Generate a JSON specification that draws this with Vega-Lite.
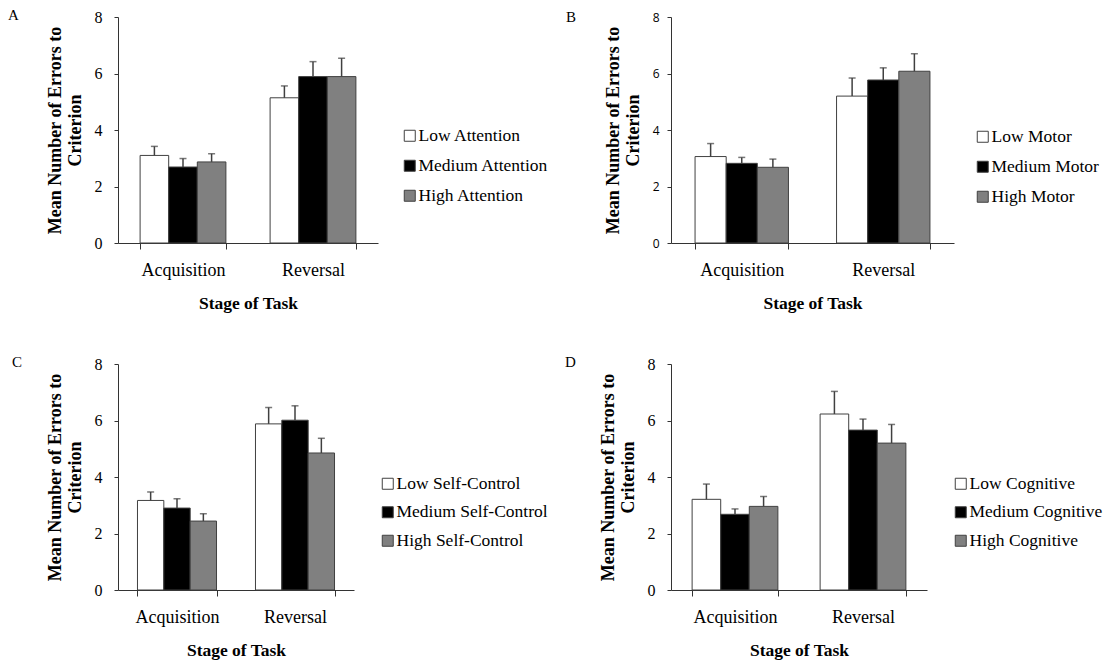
{
  "$schema": "https://vega.github.io/schema/vega-lite/v6.json",
  "background": "#ffffff",
  "padding": {"left": 8, "top": 8, "right": 5, "bottom": 5},
  "config": {
    "view": {"stroke": null},
    "axis": {"grid": false, "labelFont": "Liberation Serif", "titleFont": "Liberation Serif", "labelColor": "#000000", "titleColor": "#000000", "domainColor": "#333333", "tickColor": "#333333", "domainWidth": 1, "tickWidth": 1},
    "axisX": {"labelAngle": 0, "labelFontSize": 18, "tickSize": 6, "labelPadding": 12, "titleFontSize": 17.5, "titleFontWeight": "bold", "titlePadding": 15, "tickBand": "extent"},
    "axisY": {"labelFontSize": 16, "tickSize": 4, "labelPadding": 12, "titleFontSize": 18, "titleFontWeight": "bold", "titlePadding": 10, "titleLineHeight": 20},
    "legend": {"orient": "none", "title": null, "symbolType": "square", "symbolSize": 121, "symbolStrokeColor": "#404040", "symbolStrokeWidth": 1, "labelFont": "Liberation Serif", "labelFontSize": 17.5, "labelColor": "#000000", "labelOffset": 0, "padding": 0, "rowPadding": 11},
    "title": {"font": "Liberation Serif", "fontSize": 15, "fontWeight": "normal", "color": "#000000", "anchor": "start", "frame": "group", "offset": 0, "dy": 18}
  },
  "datasets": {
    "A": [
      {"stage": "Acquisition", "level": "Low Attention", "mean": 3.10, "upper": 3.42},
      {"stage": "Acquisition", "level": "Medium Attention", "mean": 2.69, "upper": 2.99},
      {"stage": "Acquisition", "level": "High Attention", "mean": 2.87, "upper": 3.16},
      {"stage": "Reversal", "level": "Low Attention", "mean": 5.14, "upper": 5.56},
      {"stage": "Reversal", "level": "Medium Attention", "mean": 5.89, "upper": 6.42},
      {"stage": "Reversal", "level": "High Attention", "mean": 5.89, "upper": 6.54}
    ],
    "B": [
      {"stage": "Acquisition", "level": "Low Motor", "mean": 3.06, "upper": 3.52},
      {"stage": "Acquisition", "level": "Medium Motor", "mean": 2.82, "upper": 3.03},
      {"stage": "Acquisition", "level": "High Motor", "mean": 2.68, "upper": 2.97},
      {"stage": "Reversal", "level": "Low Motor", "mean": 5.20, "upper": 5.84},
      {"stage": "Reversal", "level": "Medium Motor", "mean": 5.77, "upper": 6.20},
      {"stage": "Reversal", "level": "High Motor", "mean": 6.08, "upper": 6.70}
    ],
    "C": [
      {"stage": "Acquisition", "level": "Low Self-Control", "mean": 3.17, "upper": 3.47},
      {"stage": "Acquisition", "level": "Medium Self-Control", "mean": 2.90, "upper": 3.23},
      {"stage": "Acquisition", "level": "High Self-Control", "mean": 2.44, "upper": 2.70},
      {"stage": "Reversal", "level": "Low Self-Control", "mean": 5.88, "upper": 6.46},
      {"stage": "Reversal", "level": "Medium Self-Control", "mean": 6.01, "upper": 6.52},
      {"stage": "Reversal", "level": "High Self-Control", "mean": 4.85, "upper": 5.37}
    ],
    "D": [
      {"stage": "Acquisition", "level": "Low Cognitive", "mean": 3.21, "upper": 3.75},
      {"stage": "Acquisition", "level": "Medium Cognitive", "mean": 2.68, "upper": 2.87},
      {"stage": "Acquisition", "level": "High Cognitive", "mean": 2.96, "upper": 3.31},
      {"stage": "Reversal", "level": "Low Cognitive", "mean": 6.23, "upper": 7.03},
      {"stage": "Reversal", "level": "Medium Cognitive", "mean": 5.66, "upper": 6.05},
      {"stage": "Reversal", "level": "High Cognitive", "mean": 5.20, "upper": 5.86}
    ]
  },
  "columns": 2,
  "bounds": "flush",
  "align": "each",
  "spacing": {"row": 121, "column": 293},
  "resolve": {"scale": {"x": "independent", "y": "independent", "xOffset": "independent", "color": "independent"}},
  "concat": [
    {
      "width": 260, "height": 226,
      "title": {"text": "A", "dx": -110},
      "data": {"name": "A"},
      "encoding": {
        "x": {"field": "stage", "type": "nominal", "sort": ["Acquisition", "Reversal"], "scale": {"paddingInner": 0.34, "paddingOuter": 0.17}, "axis": {"title": "Stage of Task"}},
        "xOffset": {"field": "level", "type": "nominal", "scale": {"domain": ["Low Attention", "Medium Attention", "High Attention"], "paddingInner": 0, "paddingOuter": 0}}
      },
      "layer": [
        {"mark": {"type": "bar", "stroke": "#404040", "strokeWidth": 1},
         "encoding": {
           "y": {"field": "mean", "type": "quantitative", "scale": {"domain": [0, 8]}, "title": ["Mean Number of Errors to", "Criterion"], "axis": {"values": [0, 2, 4, 6, 8]}},
           "color": {"field": "level", "type": "nominal", "scale": {"domain": ["Low Attention", "Medium Attention", "High Attention"], "range": ["#ffffff", "#000000", "#808080"]}, "legend": {"legendX": 283, "legendY": 110}}
         }},
        {"mark": {"type": "rule", "color": "#404040", "strokeWidth": 1.5},
         "encoding": {"y": {"field": "mean", "type": "quantitative", "title": ["Mean Number of Errors to", "Criterion"]}, "y2": {"field": "upper"}}},
        {"mark": {"type": "tick", "color": "#404040", "thickness": 1.5, "size": 7},
         "encoding": {"y": {"field": "upper", "type": "quantitative", "title": ["Mean Number of Errors to", "Criterion"]}}}
      ]
    },
    {
      "width": 283, "height": 226,
      "title": {"text": "B", "dx": -105},
      "data": {"name": "B"},
      "encoding": {
        "x": {"field": "stage", "type": "nominal", "sort": ["Acquisition", "Reversal"], "scale": {"paddingInner": 0.34, "paddingOuter": 0.17}, "axis": {"title": "Stage of Task"}},
        "xOffset": {"field": "level", "type": "nominal", "scale": {"domain": ["Low Motor", "Medium Motor", "High Motor"], "paddingInner": 0, "paddingOuter": 0}}
      },
      "layer": [
        {"mark": {"type": "bar", "stroke": "#404040", "strokeWidth": 1},
         "encoding": {
           "y": {"field": "mean", "type": "quantitative", "scale": {"domain": [0, 8]}, "title": ["Mean Number of Errors to", "Criterion"], "axis": {"values": [0, 2, 4, 6, 8], "labelFont": "Open Sans", "labelFontSize": 12, "labelPadding": 8}},
           "color": {"field": "level", "type": "nominal", "scale": {"domain": ["Low Motor", "Medium Motor", "High Motor"], "range": ["#ffffff", "#000000", "#808080"]}, "legend": {"legendX": 303, "legendY": 111}}
         }},
        {"mark": {"type": "rule", "color": "#404040", "strokeWidth": 1.5},
         "encoding": {"y": {"field": "mean", "type": "quantitative", "title": ["Mean Number of Errors to", "Criterion"]}, "y2": {"field": "upper"}}},
        {"mark": {"type": "tick", "color": "#404040", "thickness": 1.5, "size": 7},
         "encoding": {"y": {"field": "upper", "type": "quantitative", "title": ["Mean Number of Errors to", "Criterion"]}}}
      ]
    },
    {
      "width": 236, "height": 226,
      "title": {"text": "C", "dx": -106},
      "data": {"name": "C"},
      "encoding": {
        "x": {"field": "stage", "type": "nominal", "sort": ["Acquisition", "Reversal"], "scale": {"paddingInner": 0.33, "paddingOuter": 0.165}, "axis": {"title": "Stage of Task"}},
        "xOffset": {"field": "level", "type": "nominal", "scale": {"domain": ["Low Self-Control", "Medium Self-Control", "High Self-Control"], "paddingInner": 0, "paddingOuter": 0}}
      },
      "layer": [
        {"mark": {"type": "bar", "stroke": "#404040", "strokeWidth": 1},
         "encoding": {
           "y": {"field": "mean", "type": "quantitative", "scale": {"domain": [0, 8]}, "title": ["Mean Number of Errors to", "Criterion"], "axis": {"values": [0, 2, 4, 6, 8]}},
           "color": {"field": "level", "type": "nominal", "scale": {"domain": ["Low Self-Control", "Medium Self-Control", "High Self-Control"], "range": ["#ffffff", "#000000", "#808080"]}, "legend": {"legendX": 261, "legendY": 111, "rowPadding": 9.5}}
         }},
        {"mark": {"type": "rule", "color": "#404040", "strokeWidth": 1.5},
         "encoding": {"y": {"field": "mean", "type": "quantitative", "title": ["Mean Number of Errors to", "Criterion"]}, "y2": {"field": "upper"}}},
        {"mark": {"type": "tick", "color": "#404040", "thickness": 1.5, "size": 7},
         "encoding": {"y": {"field": "upper", "type": "quantitative", "title": ["Mean Number of Errors to", "Criterion"]}}}
      ]
    },
    {
      "width": 256, "height": 226,
      "title": {"text": "D", "dx": -106},
      "data": {"name": "D"},
      "encoding": {
        "x": {"field": "stage", "type": "nominal", "sort": ["Acquisition", "Reversal"], "scale": {"paddingInner": 0.33, "paddingOuter": 0.165}, "axis": {"title": "Stage of Task"}},
        "xOffset": {"field": "level", "type": "nominal", "scale": {"domain": ["Low Cognitive", "Medium Cognitive", "High Cognitive"], "paddingInner": 0, "paddingOuter": 0}}
      },
      "layer": [
        {"mark": {"type": "bar", "stroke": "#404040", "strokeWidth": 1},
         "encoding": {
           "y": {"field": "mean", "type": "quantitative", "scale": {"domain": [0, 8]}, "title": ["Mean Number of Errors to", "Criterion"], "axis": {"values": [0, 2, 4, 6, 8]}},
           "color": {"field": "level", "type": "nominal", "scale": {"domain": ["Low Cognitive", "Medium Cognitive", "High Cognitive"], "range": ["#ffffff", "#000000", "#808080"]}, "legend": {"legendX": 281, "legendY": 111, "rowPadding": 9.5}}
         }},
        {"mark": {"type": "rule", "color": "#404040", "strokeWidth": 1.5},
         "encoding": {"y": {"field": "mean", "type": "quantitative", "title": ["Mean Number of Errors to", "Criterion"]}, "y2": {"field": "upper"}}},
        {"mark": {"type": "tick", "color": "#404040", "thickness": 1.5, "size": 7},
         "encoding": {"y": {"field": "upper", "type": "quantitative", "title": ["Mean Number of Errors to", "Criterion"]}}}
      ]
    }
  ]
}
